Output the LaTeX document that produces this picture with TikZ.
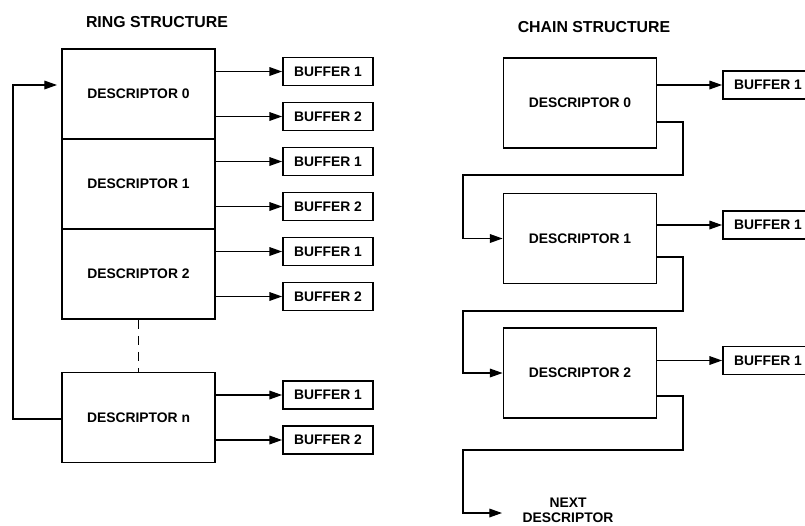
\documentclass[tikz,border=0pt]{standalone}
\usepackage{fontspec}
\setmainfont{Liberation Sans}
\usetikzlibrary{positioning, arrows.meta}

\begin{document}
\begin{tikzpicture}[
  x=0.75pt, y=-0.75pt,
  desc/.style={draw, line width=1.4pt, minimum width=114.75pt, minimum height=67.5pt,
    inner sep=0pt, font=\bfseries\fontsize{10.4pt}{12pt}\selectfont},
  buf/.style={draw, line width=1.4pt, minimum width=67.5pt, minimum height=21pt,
    inner sep=0pt, font=\bfseries\fontsize{10.4pt}{12pt}\selectfont},
  conn/.style={line width=0.9pt},
  title/.style={font=\bfseries\fontsize{11.9pt}{14pt}\selectfont},
  note/.style={font=\bfseries\fontsize{10.4pt}{11pt}\selectfont, align=center},
  >={Triangle[length=9.5pt, width=6.5pt]}
]
  %% --- frame (unit: pixels of the 805x525 sheet) ---
  \clip (0,0) rectangle (805,525);

  %% --- ring structure ---
  \node[title] (ringtitle) at (157,22) {RING STRUCTURE};
  \foreach \n/\yy in {0/94, 1/184, 2/274, n/417.5} {
    \node[desc] (r\n) at (138.5,\yy) {DESCRIPTOR \n};
    \node[buf] (r\n-b1) at (328,{\yy-22.5}) {BUFFER 1};
    \node[buf] (r\n-b2) at (328,{\yy+22.5}) {BUFFER 2};
    \draw[conn, ->] (r\n.east |- r\n-b1) -- (r\n-b1);
    \draw[conn, ->] (r\n.east |- r\n-b2) -- (r\n-b2);
  }
  %% gap between descriptor 2 and descriptor n
  \draw[conn, dashed, dash pattern=on 7pt off 5pt] (r2.south) -- (rn.north);
  %% wrap-around from the last descriptor back to the first
  \coordinate (ringin) at (57,85);
  \draw[conn, ->] (rn.west |- 0,419) -| (13,85) -- (ringin);

  %% --- chain structure ---
  \node[title] (chaintitle) at (594,27) {CHAIN STRUCTURE};
  \foreach \n/\yy/\yb in {0/103/85, 1/238.5/225, 2/373/360.5} {
    \node[desc] (c\n) at (580,\yy) {DESCRIPTOR \n};
    \node[buf] (c\n-b) at (768,\yb) {BUFFER 1};
    \draw[conn, ->] (c\n.east |- c\n-b) -- (c\n-b);
  }
  \coordinate (nextin) at (502,513);
  \node[note] (next) at (568,510) {NEXT\\DESCRIPTOR};

  %% next-descriptor pointers
  \foreach \a/\b/\yo/\yd in {c0/c1/122/175, c1/c2/257/311, c2/nextin/396/450} {
    \draw[conn, ->] (\a.east |- 0,\yo) -| (683,\yd) -- (463,\yd) |- (\b);
  }
\end{tikzpicture}
\end{document}
